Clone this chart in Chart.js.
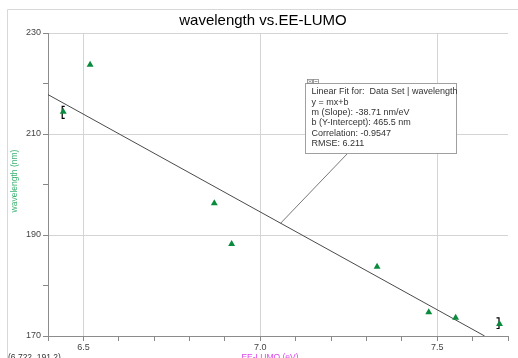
<!DOCTYPE html>
<html>
<head>
<meta charset="utf-8">
<script src="https://cdn.jsdelivr.net/npm/chart.js@4"></script>
<style>
html,body{margin:0;padding:0;background:#fff;}
#wrap{width:518px;height:358px;position:relative;}
</style>
</head>
<body>
<div id="wrap"><canvas id="c" width="518" height="358"></canvas></div>
<script>
// ---- data ----
const eeLumo = [6.443, 6.519, 6.870, 6.919, 7.330, 7.476, 7.552, 7.676];
const wavelength = [214.4, 223.7, 196.3, 188.2, 183.7, 174.7, 173.6, 172.4];
const fitX = [6.4, 7.634];
const fitY = [217.8, 170.0];
const yMajorTicks = [170, 190, 210, 230];
const xMajorTicks = [6.5, 7.0, 7.5];
const titleText = 'wavelength vs.EE-LUMO';
const xTitle = 'EE-LUMO (eV)';
const yTitle = 'wavelength (nm)';
const cursorText = '(6.722, 191.2)';
const fitLines = [
  'Linear Fit for:  Data Set | wavelength',
  'y = mx+b',
  'm (Slope): -38.71 nm/eV',
  'b (Y-Intercept): 465.5 nm',
  'Correlation: -0.9547',
  'RMSE: 6.211'
];
const leaderX = 7.057;
const leaderY = 192.3;

const points = eeLumo.map((x, i) => ({x: x, y: wavelength[i]}));
const fitData = fitX.map((x, i) => ({x: x, y: fitY[i]}));

const isMajorY = v => yMajorTicks.some(t => Math.abs(t - v) < 1e-6);
const isMajorX = v => xMajorTicks.some(t => Math.abs(t - v) < 1e-6);

const decor = {
  id: 'decor',
  beforeDraw(chart) {
    const ctx = chart.ctx;
    ctx.save();
    ctx.fillStyle = '#fff';
    ctx.fillRect(0, 0, chart.width, chart.height);
    ctx.strokeStyle = '#d8d8d8';
    ctx.lineWidth = 1;
    ctx.beginPath();
    ctx.moveTo(7.5, 358);
    ctx.lineTo(7.5, 9.5);
    ctx.lineTo(518, 9.5);
    ctx.stroke();
    ctx.restore();
  },
  beforeDatasetsDraw(chart) {
    const ctx = chart.ctx;
    const xs = chart.scales.x, ys = chart.scales.y;
    ctx.save();
    ctx.strokeStyle = '#000';
    ctx.lineWidth = 1.2;
    const p0x = xs.getPixelForValue(eeLumo[0]), p0y = ys.getPixelForValue(wavelength[0]);
    ctx.beginPath();
    ctx.moveTo(p0x + 1.5, p0y - 5.5);
    ctx.lineTo(p0x - 1, p0y - 5.5);
    ctx.lineTo(p0x - 1, p0y + 6.5);
    ctx.lineTo(p0x + 1.5, p0y + 6.5);
    ctx.stroke();
    const n = eeLumo.length - 1;
    const p1x = xs.getPixelForValue(eeLumo[n]), p1y = ys.getPixelForValue(wavelength[n]);
    ctx.beginPath();
    ctx.moveTo(p1x - 3, p1y - 6);
    ctx.lineTo(p1x - 0.5, p1y - 6);
    ctx.lineTo(p1x - 0.5, p1y + 4.6);
    ctx.lineTo(p1x - 3, p1y + 4.6);
    ctx.stroke();
    ctx.restore();
  },
  afterDraw(chart) {
    const ctx = chart.ctx;
    const xs = chart.scales.x, ys = chart.scales.y;
    ctx.save();
    ctx.fillStyle = '#000';
    ctx.font = '15px "Liberation Sans", Arial, sans-serif';
    ctx.textAlign = 'center';
    ctx.textBaseline = 'middle';
    ctx.fillText(titleText, 263, 21);
    ctx.save();
    ctx.translate(15, 181);
    ctx.rotate(-Math.PI / 2);
    ctx.fillStyle = '#3cb371';
    ctx.font = '8.5px "Liberation Sans", Arial, sans-serif';
    ctx.fillText(yTitle, 0, 0);
    ctx.restore();
    ctx.fillStyle = '#dd44ee';
    ctx.font = '8.5px "Liberation Sans", Arial, sans-serif';
    ctx.fillText(xTitle, 270, 358);
    ctx.fillStyle = '#333';
    ctx.textAlign = 'left';
    ctx.fillText(cursorText, 8, 358);

    // leader line
    ctx.strokeStyle = '#555';
    ctx.lineWidth = 0.8;
    ctx.beginPath();
    ctx.moveTo(347.5, 153.5);
    ctx.lineTo(xs.getPixelForValue(leaderX), ys.getPixelForValue(leaderY));
    ctx.stroke();

    // fit box
    const bx = 305.5, by = 83.5, bw = 151, bh = 70;
    ctx.fillStyle = '#fff';
    ctx.fillRect(bx, by, bw, bh);
    ctx.strokeStyle = '#a0a0a0';
    ctx.lineWidth = 1;
    ctx.strokeRect(bx, by, bw, bh);
    ctx.strokeStyle = '#888';
    ctx.lineWidth = 0.8;
    ctx.strokeRect(307.5, 79.5, 5, 4);
    ctx.strokeRect(313.5, 79.5, 5, 4);
    ctx.beginPath();
    ctx.moveTo(308.5, 80.5); ctx.lineTo(311.5, 82.5);
    ctx.moveTo(311.5, 80.5); ctx.lineTo(308.5, 82.5);
    ctx.moveTo(314.5, 81.5); ctx.lineTo(317.5, 81.5);
    ctx.stroke();
    ctx.fillStyle = '#333';
    ctx.font = '9px "Liberation Sans", Arial, sans-serif';
    ctx.textAlign = 'left';
    ctx.textBaseline = 'middle';
    fitLines.forEach((t, i) => ctx.fillText(t, 311.5, 92 + i * 10.3));
    ctx.restore();
  }
};

new Chart(document.getElementById('c'), {
  type: 'scatter',
  data: {
    datasets: [
      {
        label: 'wavelength',
        data: points,
        pointStyle: 'triangle',
        pointRadius: 4,
        backgroundColor: '#0a8a3c',
        borderColor: '#0a8a3c',
        borderWidth: 0,
        order: 1
      },
      {
        type: 'line',
        label: 'Linear Fit',
        data: fitData,
        borderColor: '#4a4a4a',
        borderWidth: 1,
        pointRadius: 0,
        fill: false,
        order: 2
      }
    ]
  },
  options: {
    responsive: false,
    animation: false,
    devicePixelRatio: 1,
    layout: {padding: {left: 0, right: 10, top: 33, bottom: 0}},
    plugins: {legend: {display: false}, tooltip: {enabled: false}, title: {display: false}},
    scales: {
      x: {
        type: 'linear',
        min: 6.4, max: 7.7,
        afterFit: s => { s.height = 22; },
        afterBuildTicks: s => {
          const t = [];
          for (let i = 64; i <= 77; i++) t.push({value: i / 10});
          s.ticks = t;
        },
        ticks: {
          autoSkip: false,
          maxRotation: 0,
          padding: 1,
          color: '#444',
          font: {size: 9, family: '"Liberation Sans", Arial, sans-serif'},
          callback: v => isMajorX(v) ? v.toFixed(1) : ''
        },
        grid: {
          tickLength: 5,
          color: c => isMajorX(c.tick.value) ? '#d4d4d4' : 'rgba(0,0,0,0)',
          tickColor: '#888',
          lineWidth: 1
        },
        border: {display: true, color: '#8c8c8c'}
      },
      y: {
        type: 'linear',
        min: 170, max: 230,
        afterFit: s => { s.width = 48; },
        afterBuildTicks: s => {
          const t = [];
          for (let v = 170; v <= 230; v += 10) t.push({value: v});
          s.ticks = t;
        },
        ticks: {
          autoSkip: false,
          padding: 2,
          color: '#444',
          font: {size: 9, family: '"Liberation Sans", Arial, sans-serif'},
          callback: v => isMajorY(v) ? String(v) : ''
        },
        grid: {
          tickLength: 5,
          color: c => isMajorY(c.tick.value) ? '#d4d4d4' : 'rgba(0,0,0,0)',
          tickColor: '#888',
          lineWidth: 1
        },
        border: {display: true, color: '#8c8c8c'}
      }
    }
  },
  plugins: [decor]
});
</script>
</body>
</html>
